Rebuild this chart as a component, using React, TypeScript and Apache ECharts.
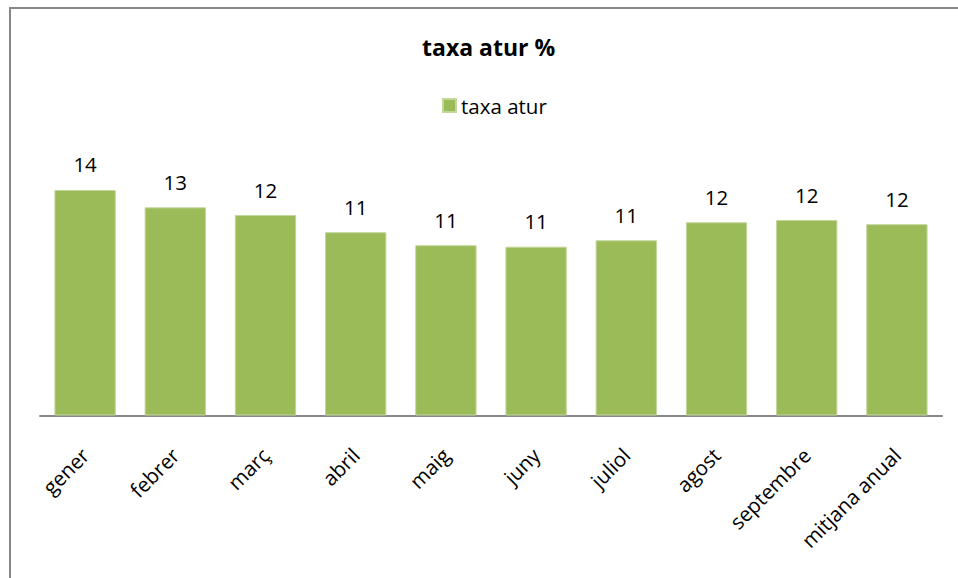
import React, { useEffect, useRef } from "react";
import * as echarts from "echarts";

const categories: string[] = [
  "gener",
  "febrer",
  "març",
  "abril",
  "maig",
  "juny",
  "juliol",
  "agost",
  "septembre",
  "mitjana anual",
];

const taxaAtur: number[] = [14.04, 12.96, 12.48, 11.41, 10.6, 10.51, 10.91, 12.03, 12.17, 11.91];

const seriesName = "taxa atur";
const chartTitle = "taxa atur %";

const FONT = "'Open Sans', 'Noto Sans', sans-serif";

export default function App() {
  const ref = useRef<HTMLDivElement>(null);

  useEffect(() => {
    if (!ref.current) return;
    const chart = echarts.init(ref.current, undefined, { renderer: "svg" });
    chart.setOption({
      animation: false,
      backgroundColor: "#ffffff",
      title: {
        text: chartTitle,
        left: 417,
        top: 30,
        textStyle: {
          fontFamily: FONT,
          fontSize: 23,
          fontWeight: "bold",
          color: "#000000",
        },
      },
      legend: {
        data: [seriesName],
        left: 437,
        top: 90,
        icon: "rect",
        itemWidth: 13,
        itemHeight: 13,
        itemGap: 10,
        textStyle: {
          fontFamily: FONT,
          fontSize: 20.5,
          color: "#000000",
        },
      },
      graphic: [
        {
          type: "rect",
          shape: { x: 10, y: 8, width: 980, height: 600 },
          style: { fill: "none", stroke: "#888888", lineWidth: 2 },
          silent: true,
        },
      ],
      grid: {
        left: 40,
        right: 16,
        top: 158.5,
        bottom: 162.5,
        containLabel: false,
      },
      xAxis: {
        type: "category",
        data: categories,
        axisLine: { show: true, lineStyle: { color: "#888888", width: 2 } },
        axisTick: { show: false },
        axisLabel: {
          rotate: 45,
          interval: 0,
          margin: 36,
          fontFamily: FONT,
          fontSize: 20.5,
          color: "#000000",
        },
      },
      yAxis: {
        type: "value",
        min: 0,
        max: 16,
        interval: 2,
        show: false,
        splitLine: { show: false },
      },
      series: [
        {
          name: seriesName,
          type: "bar",
          data: taxaAtur,
          barCategoryGap: "32%",
          itemStyle: {
            color: "#9BBB59",
            borderColor: "#C3D69B",
            borderWidth: 1,
          },
          label: {
            show: true,
            position: "top",
            distance: 15,
            formatter: (p: any) => String(Math.round(p.value)),
            fontFamily: FONT,
            fontSize: 20.5,
            color: "#000000",
          },
        },
      ],
    });
    return () => chart.dispose();
  }, []);

  return (
    <div
      ref={ref}
      style={{ position: "absolute", left: 0, top: 0, width: 958, height: 578 }}
    />
  );
}
